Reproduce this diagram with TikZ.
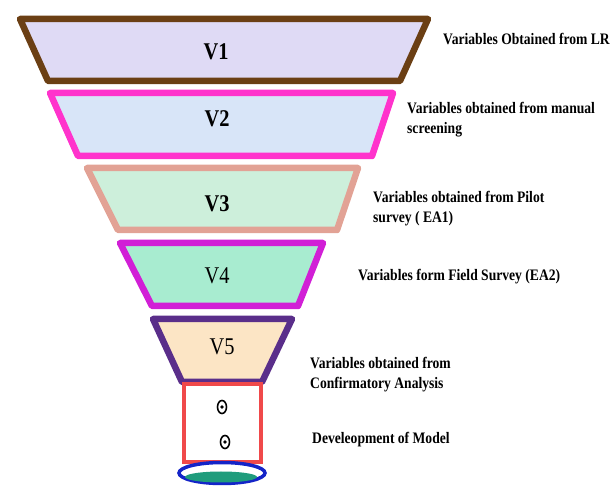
\documentclass[tikz,border=0pt]{standalone}
\usepackage{fontspec}
\setmainfont{Liberation Serif}[FakeStretch=0.85]
\usepackage{tikz}

\definecolor{borde1}{HTML}{6B3F14}
\definecolor{fondo1}{HTML}{DFDAF5}
\definecolor{borde2}{HTML}{FF33CC}
\definecolor{fondo2}{HTML}{D8E5F8}
\definecolor{borde3}{HTML}{E2A295}
\definecolor{fondo3}{HTML}{CDEFDB}
\definecolor{borde4}{HTML}{D11FD6}
\definecolor{fondo4}{HTML}{A8ECD0}
\definecolor{borde5}{HTML}{5A2E8A}
\definecolor{fondo5}{HTML}{FCE5C5}
\definecolor{rojo}{HTML}{F0494A}
\definecolor{azul}{HTML}{1424C8}
\definecolor{verde}{HTML}{1F9C7C}

\begin{document}
\begin{tikzpicture}[x=1pt,y=-1pt,
  capa/.style={line width=6.5pt, line join=round},
  etiqueta/.style={anchor=west, align=left, inner sep=0pt,
    font=\fontsize{16}{20}\selectfont\bfseries},
  nivel/.style={font=\fontsize{24}{24}\selectfont}]
\useasboundingbox (0,0) rectangle (614,486);

% Capas del embudo
\draw[capa, draw=borde1, fill=fondo1] (20,19) -- (428,19) -- (400,81) -- (48,81) -- cycle;
\node[nivel] (v1) at (216,52) {\bfseries V1};

\draw[capa, draw=borde2, fill=fondo2] (50,93) -- (393,93) -- (372,156) -- (78,156) -- cycle;
\node[nivel] (v2) at (217,119) {\bfseries V2};

\draw[capa, draw=borde3, fill=fondo3] (87,168) -- (358,168) -- (337,230) -- (118,230) -- cycle;
\node[nivel] (v3) at (217,204) {\bfseries V3};

\draw[capa, draw=borde4, fill=fondo4] (120,243) -- (323,243) -- (298,306) -- (152,306) -- cycle;
\node[nivel] (v4) at (217,276) {V4};

\draw[capa, draw=borde5, fill=fondo5] (153,319) -- (292,319) -- (262,382) -- (182,382) -- cycle;
\node[nivel] (v5) at (222,347) {V5};

% Modelo
\draw[line width=4pt, draw=rojo] (184,384) rectangle (261,462);
\draw[line width=1.6pt] (222,407) ellipse (4.5 and 6.5);
\fill (222,407) circle (1.8);
\draw[line width=1.6pt] (225,442) ellipse (4.5 and 6.5);
\fill (225,442) circle (1.8);

\draw[line width=3.5pt, draw=azul] (222,473) ellipse (43 and 10.5);
\fill[verde] (221,477) ellipse (36 and 5.5);

% Textos
\node[etiqueta] (t1) at (443,39) {Variables Obtained from LR};
\node[etiqueta] (t2) at (407,120) {Variables obtained from manual\\screening};
\node[etiqueta] (t3) at (373,209) {Variables obtained from Pilot\\survey ( EA1)};
\node[etiqueta] (t4) at (358,277) {Variables form Field Survey (EA2)};
\node[etiqueta] (t5) at (310,375) {Variables obtained from\\Confirmatory Analysis};
\node[etiqueta] (t6) at (312,440) {Develeopment of Model};
\end{tikzpicture}
\end{document}
